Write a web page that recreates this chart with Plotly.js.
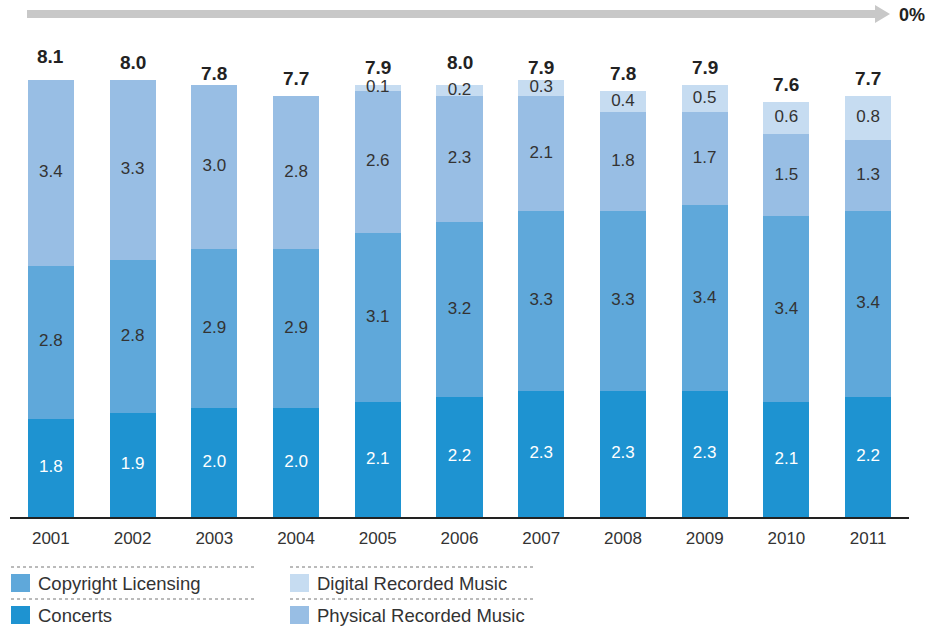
<!DOCTYPE html>
<html><head><meta charset="utf-8">
<script src="https://cdn.plot.ly/plotly-3.0.1.min.js"></script>
<style>html,body{margin:0;padding:0;background:#fff}</style></head>
<body>
<div id="chart" style="width:932px;height:629px"></div>
<script>
const years = ["2001","2002","2003","2004","2005","2006","2007","2008","2009","2010","2011"];
const concerts  = [1.8,1.9,2.0,2.0,2.1,2.2,2.3,2.3,2.3,2.1,2.2];
const copyright = [2.8,2.8,2.9,2.9,3.1,3.2,3.3,3.3,3.4,3.4,3.4];
const physical  = [3.4,3.3,3.0,2.8,2.6,2.3,2.1,1.8,1.7,1.5,1.3];
const digital   = [0,0,0,0,0.1,0.2,0.3,0.4,0.5,0.6,0.8];
const totals    = [8.1,8.0,7.8,7.7,7.9,8.0,7.9,7.8,7.9,7.6,7.7];
const seriesNames = ["Concerts","Copyright Licensing","Physical Recorded Music","Digital Recorded Music"];
const colors = ["#1e93d1","#5fa8da","#98bee4","#c6dcf1"];
const FONT = "Liberation Sans, Arial, sans-serif";

const series = [concerts, copyright, physical, digital];
const traces = [];
series.forEach((vals,i)=>{
  traces.push({type:"bar", x:years, y:vals, name:seriesNames[i], marker:{color:colors[i]}, hoverinfo:"skip"});
});
// segment labels at midpoints of stacked segments
const base = years.map(()=>0);
series.forEach((vals,i)=>{
  const mids = vals.map((v,j)=>base[j]+v/2);
  const txt = vals.map(v=> v>0 ? v.toFixed(1) : "");
  vals.forEach((v,j)=>{base[j]+=v;});
  traces.push({type:"scatter", mode:"text", x:years, y:mids, text:txt, textposition:"middle center",
    textfont:{family:FONT, size:17, color:i===0?"#ffffff":"#333333"},
    hoverinfo:"skip", showlegend:false, cliponaxis:false});
});

// pixel -> paper helpers (layout only)
const L=10, R=909, B=517, T=25;
const px = v => (v-L)/(R-L);
const py = v => (B-v)/(B-T);

const shapes = [
  {type:"rect", xref:"paper", yref:"paper", x0:px(27), x1:px(876), y0:py(18), y1:py(10), fillcolor:"#c8c8c8", line:{width:0}},
  {type:"path", xref:"paper", yref:"paper", path:`M ${px(875)} ${py(5)} L ${px(890)} ${py(14)} L ${px(875)} ${py(23)} Z`, fillcolor:"#c8c8c8", line:{width:0}},
  {type:"line", xref:"paper", yref:"paper", x0:px(11), x1:px(256), y0:py(567), y1:py(567), line:{color:"#777", width:1, dash:"dot"}},
  {type:"line", xref:"paper", yref:"paper", x0:px(11), x1:px(256), y0:py(599), y1:py(599), line:{color:"#777", width:1, dash:"dot"}},
  {type:"line", xref:"paper", yref:"paper", x0:px(290), x1:px(535), y0:py(567), y1:py(567), line:{color:"#777", width:1, dash:"dot"}},
  {type:"line", xref:"paper", yref:"paper", x0:px(290), x1:px(535), y0:py(599), y1:py(599), line:{color:"#777", width:1, dash:"dot"}}
];
const legendItems = [
  {name:seriesNames[1], color:colors[1], x:11, y:583},
  {name:seriesNames[0], color:colors[0], x:11, y:615},
  {name:seriesNames[3], color:colors[3], x:290, y:583},
  {name:seriesNames[2], color:colors[2], x:290, y:615}
];
const annotations = [
  {xref:"paper", yref:"paper", x:px(897), y:py(15), text:"<b>0%</b>", showarrow:false, xanchor:"left", yanchor:"middle",
   font:{family:FONT, size:18, color:"#222"}}
];
years.forEach((yr,j)=>{
  annotations.push({x:j, y:totals[j], xref:"x", yref:"y", text:"<b>"+totals[j].toFixed(1)+"</b>", showarrow:false,
    xanchor:"center", yanchor:"bottom", yshift:5, font:{family:FONT, size:19, color:"#222"}});
});
legendItems.forEach(it=>{
  shapes.push({type:"rect", xref:"paper", yref:"paper", x0:px(it.x), x1:px(it.x+19), y0:py(it.y-9), y1:py(it.y+9), fillcolor:it.color, line:{width:0}});
  annotations.push({xref:"paper", yref:"paper", x:px(it.x+25), y:py(it.y), text:it.name, showarrow:false, xanchor:"left", yanchor:"middle",
    font:{family:FONT, size:18.5, color:"#333"}});
});

const layout = {
  width:932, height:629,
  margin:{l:L, r:932-R, t:T, b:629-B, pad:0},
  paper_bgcolor:"#fff", plot_bgcolor:"#fff",
  barmode:"stack", bargap:0.437, showlegend:false, hovermode:false,
  xaxis:{type:"category", range:[-0.5,10.5], showline:true, linecolor:"#222", linewidth:1.5, ticks:"", showgrid:false, zeroline:false,
    tickfont:{family:FONT, size:17, color:"#333"}, ticklabelstandoff:5, fixedrange:true},
  yaxis:{range:[0,9], visible:false, showgrid:false, zeroline:false, fixedrange:true},
  shapes:shapes, annotations:annotations
};
Plotly.newPlot("chart", traces, layout, {staticPlot:true, displayModeBar:false});
</script>
</body></html>
